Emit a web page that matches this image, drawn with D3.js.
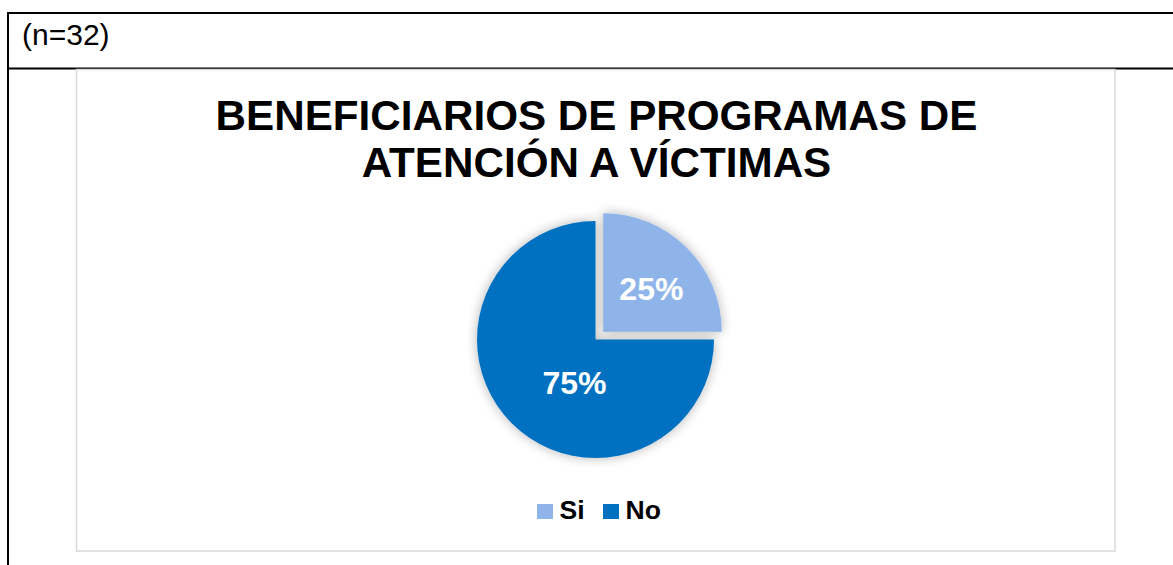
<!DOCTYPE html>
<html>
<head>
<meta charset="utf-8">
<script src="https://cdn.jsdelivr.net/npm/d3@7"></script>
<style>
  html, body { margin: 0; padding: 0; background: #fff; }
  svg { display: block; font-family: "Liberation Sans", Arial, sans-serif; }
</style>
</head>
<body>
<svg id="chart" width="1173" height="565"></svg>
<script>
// data
var categories = ["Si", "No"];
var values = [25, 75];
var labels = ["25%", "75%"];
var colors = ["#8fb4ea", "#0070c0"];
var titleLines = ["BENEFICIARIOS DE PROGRAMAS DE", "ATENCIÓN A VÍCTIMAS"];
var note = "(n=32)";

var svg = d3.select("#chart");

// table lines round the chart
svg.append("line").attr("x1", 7).attr("x2", 1173).attr("y1", 13).attr("y2", 13)
  .attr("stroke", "#000").attr("stroke-width", 2);
svg.append("line").attr("x1", 7).attr("x2", 1173).attr("y1", 68.5).attr("y2", 68.5)
  .attr("stroke", "#000").attr("stroke-width", 2);
svg.append("line").attr("x1", 8).attr("x2", 8).attr("y1", 12).attr("y2", 565)
  .attr("stroke", "#000").attr("stroke-width", 2);

svg.append("text").attr("x", 22).attr("y", 45)
  .attr("font-size", 30).attr("fill", "#000").text(note);

// chart area frame
svg.append("rect").attr("x", 76.5).attr("y", 69.5).attr("width", 1038.5).attr("height", 481.5)
  .attr("fill", "#fff").attr("stroke", "#d9d9d9").attr("stroke-width", 1.5);

// title
svg.append("g").selectAll("text").data(titleLines).enter().append("text")
  .attr("x", 596.5).attr("y", function(d, i) { return 129.5 + i * 47.5; })
  .attr("text-anchor", "middle").attr("font-size", 42.2).attr("font-weight", "bold")
  .attr("fill", "#000").text(function(d) { return d; });

// soft shadow for the pie
var defs = svg.append("defs");
var f = defs.append("filter").attr("id", "shadow")
  .attr("x", "-20%").attr("y", "-20%").attr("width", "140%").attr("height", "140%");
f.append("feGaussianBlur").attr("in", "SourceAlpha").attr("stdDeviation", 6).attr("result", "b");
f.append("feComponentTransfer").attr("in", "b").attr("result", "s")
  .append("feFuncA").attr("type", "linear").attr("slope", 0.3);
var m = f.append("feMerge");
m.append("feMergeNode").attr("in", "s");
m.append("feMergeNode").attr("in", "SourceGraphic");

var cx = 595.5, cy = 339.5, r = 118.5, explode = 11;

var pie = d3.pie().sort(null).value(function(d) { return d; });
var arcs = pie(values);
var arc = d3.arc().innerRadius(0).outerRadius(r);

var g = svg.append("g").attr("transform", "translate(" + cx + "," + cy + ")");

function offset(d, i) {
  if (i !== 0) return [0, 0];
  var a = (d.startAngle + d.endAngle) / 2;
  return [Math.sin(a) * explode, -Math.cos(a) * explode];
}

g.selectAll("path").data(arcs).enter().append("path")
  .attr("d", arc)
  .attr("transform", function(d, i) { var o = offset(d, i); return "translate(" + o[0] + "," + o[1] + ")"; })
  .attr("fill", function(d, i) { return colors[i]; })
  .attr("filter", "url(#shadow)");

// excel "best fit" puts the big label nearer the middle
var labelArc = d3.arc().innerRadius(r * 0.55).outerRadius(r * 0.55);
var labelNudge = [[2, 3], [25, -3]];
g.selectAll("text.lab").data(arcs).enter().append("text")
  .attr("class", "lab")
  .attr("transform", function(d, i) {
    var c = labelArc.centroid(d), o = offset(d, i);
    return "translate(" + (c[0] + o[0] + labelNudge[i][0]) + "," + (c[1] + o[1] + labelNudge[i][1]) + ")";
  })
  .attr("dy", "0.36em")
  .attr("text-anchor", "middle").attr("font-size", 32).attr("font-weight", "bold")
  .attr("fill", "#fff").text(function(d, i) { return labels[i]; });

// legend
var legX = [537, 603];
var leg = svg.append("g").selectAll("g").data(categories).enter().append("g")
  .attr("transform", function(d, i) { return "translate(" + legX[i] + ",504)"; });
leg.append("rect").attr("width", 16).attr("height", 15)
  .attr("fill", function(d, i) { return colors[i]; });
leg.append("text").attr("x", 22.5).attr("y", 15)
  .attr("font-size", 26.5).attr("font-weight", "bold").attr("fill", "#000")
  .text(function(d) { return d; });
</script>
</body>
</html>
